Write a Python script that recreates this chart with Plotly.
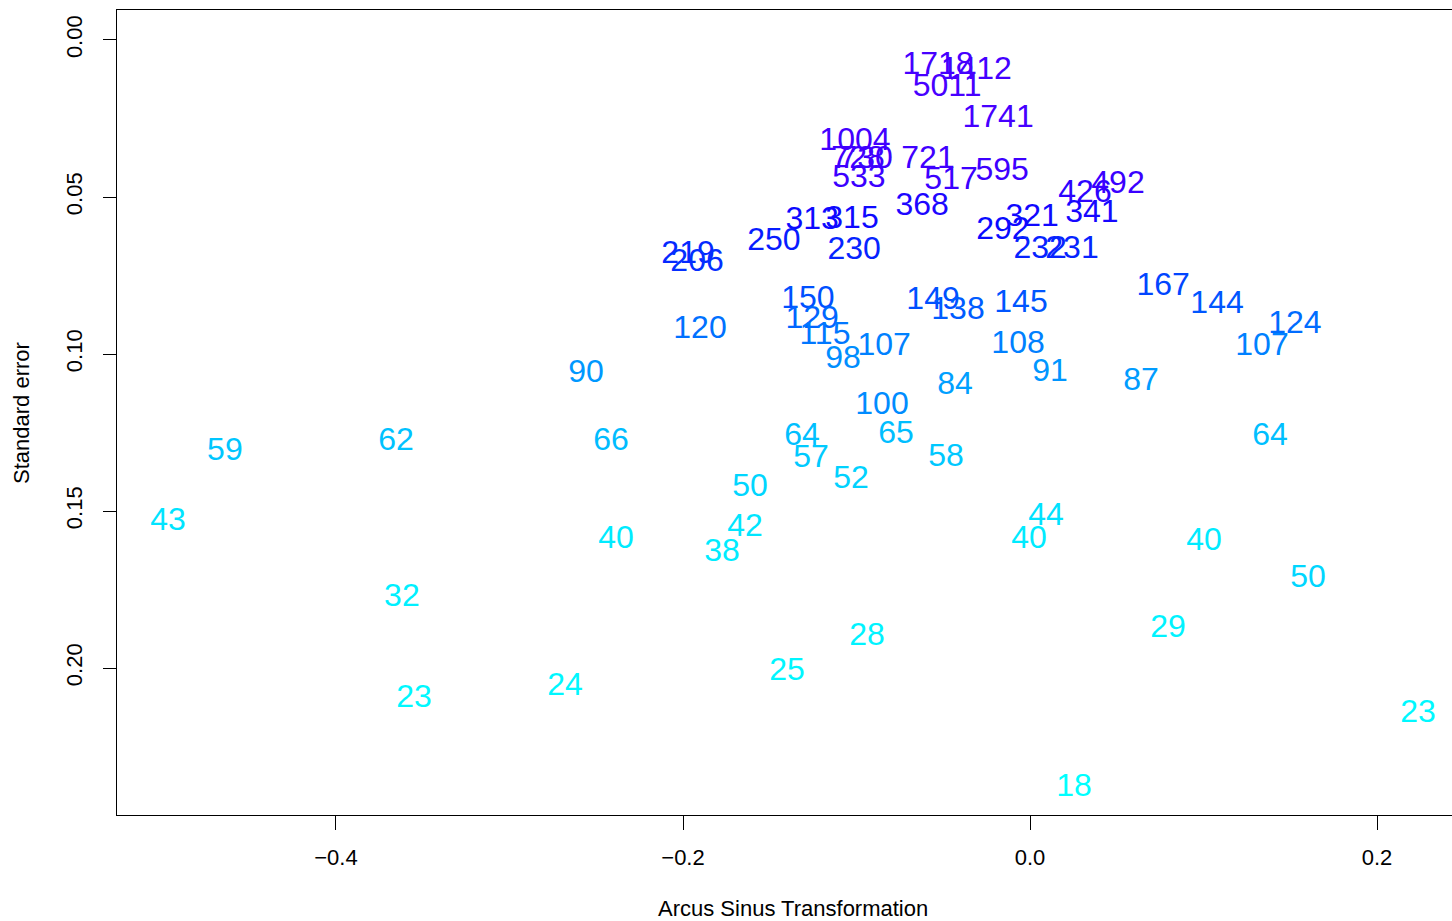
import numpy as np
import plotly.graph_objects as go

# Sample sizes (labels), effect (arcsine transformation) and standard error
labels = [1718, 1412, 5011, 1741, 1004, 728, 730, 721, 533, 517, 595, 426, 492,
          368, 313, 315, 250, 230, 292, 321, 341, 232, 231, 219, 206,
          167, 144, 124, 120, 150, 129, 115, 149, 138, 145,
          107, 98, 108, 107, 91, 87, 84, 90, 100, 65, 66, 64, 57, 58, 52, 50,
          64, 62, 59, 43, 42, 44, 50,
          40, 38, 40, 40, 32, 29, 28, 25, 24, 23, 23, 18]
effect = [-0.0530, -0.0310, -0.0478, -0.0184, -0.1009, -0.0991, -0.0945, -0.0588, -0.0986, -0.0455, -0.0161, 0.0317, 0.0507,
          -0.0622, -0.1256, -0.1026, -0.1476, -0.1014, -0.0156, 0.0012, 0.0357, 0.0058, 0.0242, -0.1971, -0.1919,
          0.0767, 0.1078, 0.1527, -0.1902, -0.1280, -0.1256, -0.1182, -0.0559, -0.0415, -0.0052,
          -0.0841, -0.1078, -0.0069, 0.1337, 0.0115, 0.0640, -0.0432, -0.2559, -0.0853, -0.0772, -0.2415, -0.1314, -0.1262, -0.0484, -0.1032, -0.1614,
          0.1383, -0.3654, -0.4640, -0.4968, -0.1643, 0.0092, 0.1602,
          -0.2386, -0.1775, -0.0006, 0.1003, -0.3620, 0.0795, -0.0939, -0.1401, -0.2680, -0.3550, 0.2236, 0.0254]
std_err = [0.0083, 0.0099, 0.0153, 0.0252, 0.0325, 0.0383, 0.0383, 0.0383, 0.0443, 0.0449, 0.0421, 0.0491, 0.0462,
           0.0532, 0.0577, 0.0574, 0.0644, 0.0672, 0.0609, 0.0567, 0.0555, 0.0669, 0.0669, 0.0685, 0.0711,
           0.0787, 0.0844, 0.0908, 0.0924, 0.0828, 0.0892, 0.0943, 0.0832, 0.0864, 0.0841,
           0.0978, 0.1020, 0.0972, 0.0978, 0.1061, 0.1090, 0.1102, 0.1064, 0.1166, 0.1258, 0.1281, 0.1265, 0.1335, 0.1332, 0.1402, 0.1427,
           0.1265, 0.1281, 0.1313, 0.1535, 0.1555, 0.1520, 0.1717,
           0.1593, 0.1634, 0.1593, 0.1599, 0.1778, 0.1876, 0.1902, 0.2013, 0.2061, 0.2099, 0.2147, 0.2383]

x_ticks = [-0.4, -0.2, 0.0, 0.2]
y_ticks = [0.00, 0.05, 0.10, 0.15, 0.20]

# colour ramp by sample size (log scale): cyan -> blue -> violet
anchor_n = [18, 40, 65, 100, 150, 300, 500, 2000]
anchor_rgb = [(0, 255, 255), (0, 235, 255), (0, 190, 255), (0, 140, 255),
              (0, 80, 255), (10, 10, 255), (60, 0, 255), (72, 0, 255)]


def ramp(n):
    ln = np.log(n)
    la = np.log(anchor_n)
    r = np.interp(ln, la, [c[0] for c in anchor_rgb])
    g = np.interp(ln, la, [c[1] for c in anchor_rgb])
    b = np.interp(ln, la, [c[2] for c in anchor_rgb])
    return f"rgb({int(r)},{int(g)},{int(b)})"


colors = [ramp(n) for n in labels]

FONT = "Liberation Sans, Arial, sans-serif"

fig = go.Figure()
fig.add_trace(go.Scatter(
    x=effect, y=std_err, mode="text", text=[str(v) for v in labels],
    textposition="middle center",
    textfont=dict(family=FONT, size=32, color=colors),
    hoverinfo="skip", showlegend=False, cliponaxis=False,
))

fig.update_layout(
    width=1452, height=921,
    margin=dict(l=117, r=0, t=10, b=106),
    paper_bgcolor="white", plot_bgcolor="white",
    font=dict(family=FONT, size=22, color="black"),
    xaxis=dict(range=[-0.5262, 0.2432], tickvals=x_ticks,
               ticktext=[f"{v:.1f}".replace("-", "\u2212") for v in x_ticks],
               showgrid=False, zeroline=False, showline=True, mirror=True,
               linecolor="black", linewidth=1.3, ticks="outside", ticklen=14,
               tickcolor="black", tickwidth=1.3, ticklabelstandoff=8,
               tickfont=dict(size=22)),
    yaxis=dict(range=[0.2468, -0.00955], tickvals=y_ticks,
               ticktext=[f"{v:.2f}" for v in y_ticks], tickangle=-90,
               showgrid=False, zeroline=False, showline=True, mirror=False,
               linecolor="black", linewidth=1.3, ticks="outside", ticklen=13,
               tickcolor="black", tickwidth=1.3, ticklabelstandoff=12,
               tickfont=dict(size=22)),
    annotations=[
        dict(text="Arcus Sinus Transformation", xref="paper", yref="paper",
             x=0.5064, y=-0.1165, showarrow=False, xanchor="center", yanchor="middle",
             font=dict(size=22)),
        dict(text="Standard error", xref="paper", yref="paper", x=-0.0712, y=0.4994,
             showarrow=False, textangle=-90, xanchor="center", yanchor="middle",
             font=dict(size=22)),
    ],
)

fig.write_html("out.html")
